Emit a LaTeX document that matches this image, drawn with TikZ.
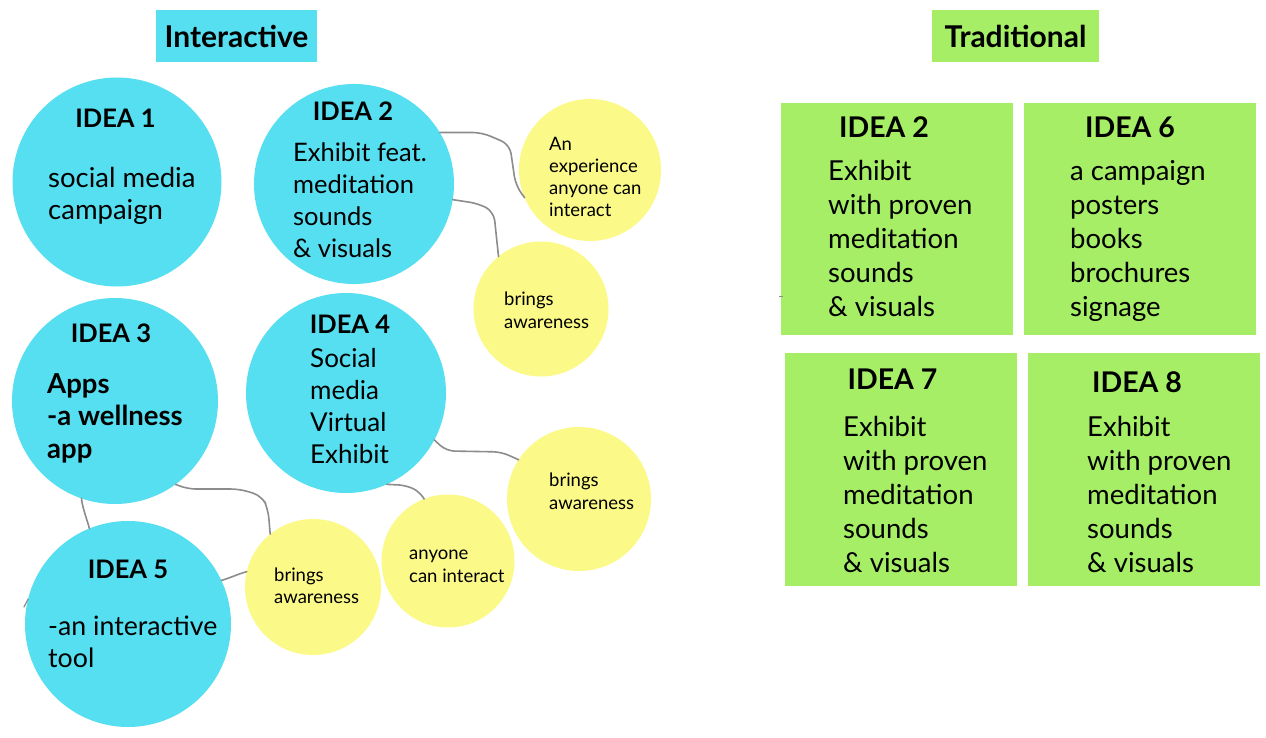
\documentclass[tikz,border=0pt]{standalone}
\usepackage{fontspec}
\setmainfont{Lato}
\definecolor{ibl}{RGB}{86,223,240}
\definecolor{iyl}{RGB}{251,249,135}
\definecolor{igr}{RGB}{166,238,102}
\definecolor{ign}{RGB}{140,140,140}
\begin{document}
\begin{tikzpicture}[x=1pt,y=-1pt,
  bluec/.style={circle,fill=ibl,draw=none,inner sep=0pt,outer sep=0pt,minimum size=#1},
  yelc/.style={circle,fill=iyl,draw=none,inner sep=0pt,outer sep=0pt,minimum size=#1},
  grbox/.style={rectangle,fill=igr,draw=none,inner sep=0pt,outer sep=0pt,minimum width=232pt,minimum height=#1},
  hdr/.style={rectangle,draw=none,inner sep=0pt,outer sep=0pt,minimum height=52pt,font=\fontsize{30}{36}\selectfont\bfseries},
  ttl/.style={inner sep=0pt,anchor=base,font=\fontsize{25.5}{30}\selectfont\bfseries},
  gttl/.style={inner sep=0pt,anchor=base,font=\fontsize{28.5}{34}\selectfont\bfseries},
  bbody/.style={inner sep=0pt,anchor=base west,align=left,font=\fontsize{#1}{32}\selectfont},
  bbold/.style={inner sep=0pt,anchor=base west,align=left,font=\fontsize{27.5}{32.75}\selectfont\bfseries},
  ybody/.style={inner sep=0pt,anchor=base west,align=left,font=\fontsize{18.5}{22.3}\selectfont},
  gbody/.style={inner sep=0pt,anchor=base west,align=left,font=\fontsize{27.5}{34}\selectfont},
  conn/.style={draw=ign,line width=1.6pt,rounded corners=9pt,line cap=round}]
\fill[white] (0,0) rectangle (1266,738);
\useasboundingbox (0,0) rectangle (1266,738);

% headers
\node[hdr,fill=ibl,minimum width=161pt] (hi) at (236.5,36) {Interactive};
\node[hdr,fill=igr,minimum width=167pt] (ht) at (1015.5,36) {Traditional};

% blue circles
\node[bluec=209pt] (i1) at (117,182) {};
\node[bluec=200pt] (i2) at (354,184) {};
\node[bluec=206pt] (i3) at (115,401) {};
\node[bluec=200pt] (i4) at (346,393) {};
\node[bluec=206pt] (i5) at (128,624) {};

% yellow circles
\node[yelc=142pt] (y1) at (590,170) {};
\node[yelc=135pt] (y2) at (541,309) {};
\node[yelc=144pt] (y3) at (579,499) {};
\node[yelc=133pt] (y4) at (448,561) {};
\node[yelc=136pt] (y5) at (313,587) {};

% green boxes
\node[grbox=232pt] (g1) at (897,219) {};
\node[grbox=232pt] (g2) at (1140,219) {};
\node[grbox=233pt] (g3) at (901,469.5) {};
\node[grbox=233pt] (g4) at (1144,469.5) {};

% blue texts (base anchor = baseline of the last line)
\node[ttl] (i1t) at (115.5,128) {IDEA 1};
\node[bbody=27.5] (i1b) at (48,219) {social media\\campaign};
\node[ttl] (i2t) at (353,121) {IDEA 2};
\node[bbody=25.5] (i2b) at (293,257) {Exhibit feat.\\meditation\\sounds\\\& visuals};
\node[ttl] (i3t) at (111,342) {IDEA 3};
\node[bbold] (i3b) at (47,458.5) {Apps\\-a wellness\\app};
\node[ttl] (i4t) at (350,333) {IDEA 4};
\node[bbody=26] (i4b) at (310,463) {Social\\media\\Virtual\\Exhibit};
\node[ttl] (i5t) at (128,578) {IDEA 5};
\node[bbody=26.7] (i5b) at (48,667) {-an interactive\\tool};

% yellow texts
\node[ybody] (y1b) at (549,217) {An\\experience\\anyone can\\interact};
\node[ybody] (y2b) at (504,328) {brings\\awareness};
\node[ybody] (y3b) at (549,509) {brings\\awareness};
\node[ybody] (y4b) at (409,582) {anyone\\can interact};
\node[ybody] (y5b) at (274,603.5) {brings\\awareness};

% green texts
\node[gttl] (g1t) at (884,138) {IDEA 2};
\node[gbody] (g1b) at (828,316) {Exhibit\\with proven\\meditation\\sounds\\\& visuals};
\node[gttl] (g2t) at (1130,138) {IDEA 6};
\node[gbody] (g2b) at (1070,316) {a campaign\\posters\\books\\brochures\\signage};
\node[gttl] (g3t) at (892.5,389) {IDEA 7};
\node[gbody] (g3b) at (843,572) {Exhibit\\with proven\\meditation\\sounds\\\& visuals};
\node[gttl] (g4t) at (1137,392) {IDEA 8};
\node[gbody] (g4b) at (1087,572) {Exhibit\\with proven\\meditation\\sounds\\\& visuals};

% connectors
\draw[conn] (i2.31) -- ++(42,0) -- ++(28,12) -- ++(6,41) -- (y1.203);
\draw[conn] (i2.351) -- ++(26,4) -- ++(15,8) -- (y2.129);
\draw[conn] (i3.306) -- ++(11.5,4.7) -- ++(53,0) -- ++(22,7) -- ++(6,13) -- (y5.129);
\draw[conn] (i3.251) .. controls +(1,10) and +(-2,-8) .. (i5.112);
\draw[conn] (i5.25) .. controls +(10,-3) and +(-8,2) .. (y5.167);
\draw[conn,rounded corners=8pt] (i4.294) -- ++(20,1) -- ++(14,7) -- (y4.111);
\draw[conn,rounded corners=8pt] (i4.332) -- ++(12,11) -- ++(55,1) -- (y3.147);
\coordinate (s5) at (24,607);
\draw[conn,line width=1.2pt] (i5.166) -- (s5);
\coordinate (gm) at (779,296);
\draw[draw=ign,line width=1pt] (gm) -- ++(4,0);
\end{tikzpicture}
\end{document}
